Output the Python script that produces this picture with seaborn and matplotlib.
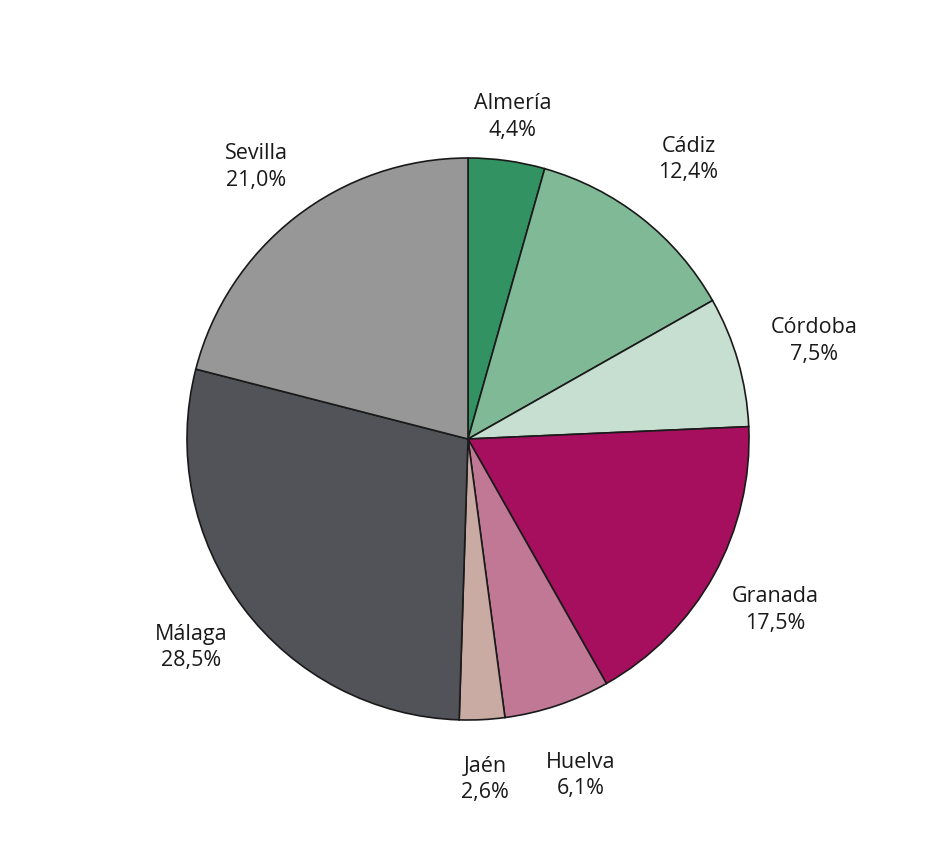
import numpy as np
import matplotlib
matplotlib.use('Agg')
import matplotlib.pyplot as plt
import seaborn as sns

provinces = ['Almería', 'Cádiz', 'Córdoba', 'Granada', 'Huelva', 'Jaén', 'Málaga', 'Sevilla']
shares = [4.4, 12.4, 7.5, 17.5, 6.1, 2.6, 28.5, 21.0]
colors = ['#339261', '#80b996', '#c7dfd1', '#a50f5e', '#c17894',
          '#c9aba3', '#525358', '#979797']

sns.set_theme(style='white')
plt.rcParams['font.family'] = ['Open Sans', 'DejaVu Sans']

fig = plt.figure(figsize=(9.4, 8.53), dpi=100)
ax = fig.add_axes([0, 0, 1, 1])
R = 281.0
cx, cy = 468, 440

wedges, _ = ax.pie(shares, colors=colors, startangle=90, counterclock=False,
                   wedgeprops=dict(edgecolor='#1a1a1a', linewidth=1.2))

# pie resets limits, so set them afterwards
ax.set_xlim(-cx / R, (940 - cx) / R)
ax.set_ylim(-(853 - cy) / R, cy / R)
ax.set_aspect('auto')
ax.axis('off')

dists = [1.16, 1.27, 1.28, 1.25, 1.26, 1.21, 1.23, 1.23]
for w, name, val, d in zip(wedges, provinces, shares, dists):
    ang = np.deg2rad((w.theta1 + w.theta2) / 2)
    x, y = d * np.cos(ang), d * np.sin(ang)
    ax.text(x, y, f'{name}\n{val:.1f}%'.replace('.', ','), ha='center', va='center',
            fontsize=15.5, color='#1a1a1a', linespacing=1.35)

fig.savefig('out.png', dpi=100)
